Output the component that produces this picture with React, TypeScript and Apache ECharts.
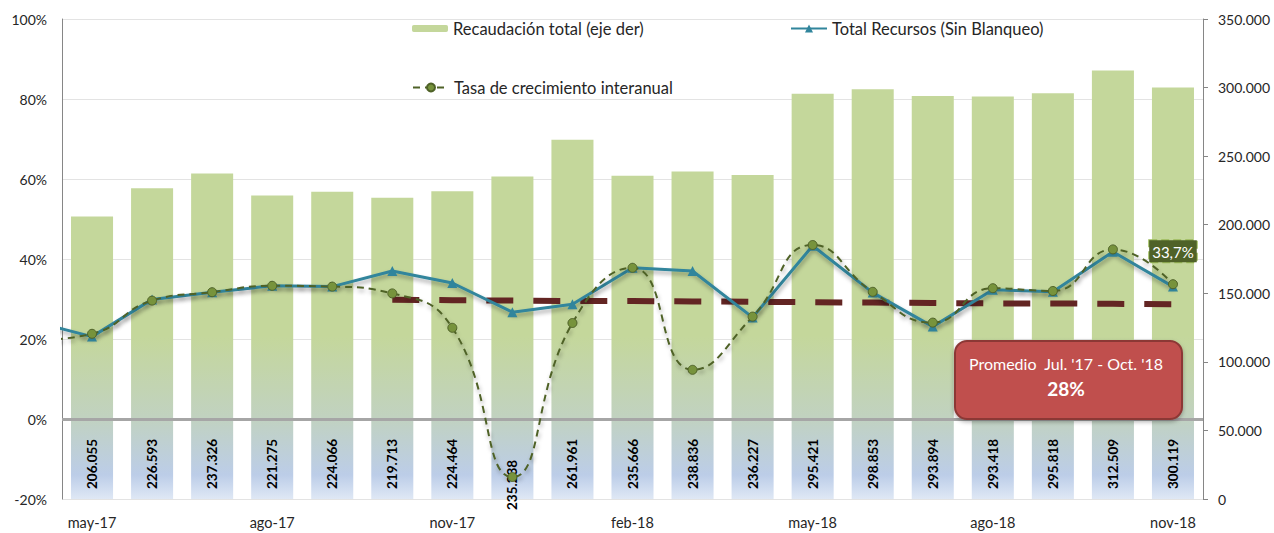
import React, { useEffect, useRef } from "react";
import * as echarts from "echarts";

// ---- data ----
const months = [
  "may-17", "jun-17", "jul-17", "ago-17", "sep-17", "oct-17", "nov-17", "dic-17",
  "ene-18", "feb-18", "mar-18", "abr-18", "may-18", "jun-18", "jul-18", "ago-18",
  "sep-18", "oct-18", "nov-18",
];
const recaudacion = [
  206055, 226593, 237326, 221275, 224066, 219713, 224464, 235238, 261961, 235666,
  238836, 236227, 295421, 298853, 293894, 293418, 295818, 312509, 300119,
];
// value of abr-17, only partly visible at the left edge
const totalRecursosPrev = 24.5;
const totalRecursos = [
  20.6, 29.9, 31.7, 33.3, 33.1, 37.0, 34.0, 26.7, 28.7, 37.8, 37.0, 25.4, 43.3, 31.6,
  23.1, 32.3, 31.8, 41.8, 33.1,
];
const tasaPrev = 19.6;
const tasaCrecimiento = [
  21.3, 29.6, 31.7, 33.3, 33.1, 31.4, 22.8, -14.5, 24.0, 37.8, 12.3, 25.6, 43.5, 31.8,
  24.1, 32.7, 32.0, 42.4, 33.7,
];
const promedioStart = 5; // oct-17
const promedio = [29.8, 29.7, 29.6, 29.5, 29.5, 29.4, 29.3, 29.2, 29.1, 29.0, 28.9, 28.9, 28.8, 28.7];
const lastLabel = "33,7%";
const calloutTitle = "Promedio  Jul. '17 - Oct. '18";
const calloutValue = "28%";

const FONT = "Lato, 'Open Sans', sans-serif";
const fmtThousands = (v: number) =>
  String(Math.round(v)).replace(/\B(?=(\d{3})+(?!\d))/g, ".");

export default function App() {
  const ref = useRef<HTMLDivElement>(null);

  useEffect(() => {
    if (!ref.current) return;
    const chart = echarts.init(ref.current, null, { renderer: "svg" });

    const barGradient = new echarts.graphic.LinearGradient(
      0, 19, 0, 499,
      [
        { offset: 0, color: "#c4d79b" },
        { offset: 0.66, color: "#c4d79b" },
        { offset: 0.83, color: "#c1d2c0" },
        { offset: 0.95, color: "#bccde8" },
        { offset: 1, color: "#dfe8f5" },
      ],
      true
    );

    const shadow = {
      shadowColor: "rgba(0,0,0,0.35)",
      shadowBlur: 4,
      shadowOffsetX: 1,
      shadowOffsetY: 3,
    };

    const legendText = { fontSize: 16.5, color: "#262626", fontFamily: FONT };

    chart.setOption({
      animation: false,
      textStyle: { fontFamily: FONT },
      grid: { left: 62, right: 71, top: 19, bottom: 34, containLabel: false },
      legend: [
        {
          data: ["Recaudación total (eje der)"],
          left: 412, top: 20, padding: 0, itemWidth: 36, itemHeight: 7,
          textStyle: legendText,
          selectedMode: false,
        },
        {
          data: ["Total Recursos (Sin Blanqueo)"],
          left: 790, top: 20, padding: 0, itemWidth: 36, itemHeight: 10,
          textStyle: legendText,
          selectedMode: false,
        },
        {
          data: ["Tasa de crecimiento interanual"],
          left: 412, top: 79, padding: 0, itemWidth: 36, itemHeight: 10,
          textStyle: legendText,
          selectedMode: false,
        },
      ],
      xAxis: [
        {
          type: "category",
          data: months,
          boundaryGap: true,
          axisLine: { show: false },
          axisTick: { show: false },
          axisLabel: {
            interval: 2, margin: 16, fontSize: 14.5, color: "#262626", fontFamily: FONT,
          },
        },
        { type: "value", min: -0.5, max: 18.5, show: false },
      ],
      yAxis: [
        {
          type: "value",
          min: -20, max: 100, interval: 20,
          axisLine: { show: true, onZero: false, lineStyle: { color: "#868686", width: 1 } },
          axisTick: { show: false },
          axisLabel: { formatter: "{value}%", margin: 15, fontSize: 14, color: "#262626", fontFamily: FONT },
          splitLine: { show: true, lineStyle: { color: "#e3e3e3", width: 1 } },
        },
        {
          type: "value",
          position: "right",
          min: 0, max: 350000, interval: 50000,
          axisLine: { show: true, onZero: false, lineStyle: { color: "#868686", width: 1 } },
          axisTick: { show: true, inside: false, length: 5, lineStyle: { color: "#868686" } },
          axisLabel: { formatter: (v: number) => fmtThousands(v), margin: 15, fontSize: 14, color: "#262626", fontFamily: FONT },
          splitLine: { show: false },
        },
      ],
      series: [
        {
          name: "Recaudación total (eje der)",
          type: "bar",
          xAxisIndex: 0,
          yAxisIndex: 1,
          barWidth: "70%",
          itemStyle: { color: barGradient },
          label: {
            show: true,
            position: "insideBottom",
            rotate: 90,
            align: "left",
            verticalAlign: "middle",
            distance: 10,
            formatter: (p: any) => fmtThousands(p.value),
            fontSize: 13.5,
            fontWeight: "bold",
            color: "#000",
            fontFamily: FONT,
          },
          data: recaudacion.map((v, i) =>
            i === 7 ? { value: v, label: { distance: -11 } } : v
          ),
          z: 1,
        },
        {
          name: "Promedio",
          type: "line",
          xAxisIndex: 1,
          yAxisIndex: 0,
          symbol: "none",
          lineStyle: { color: "#632523", width: 6, type: [27, 20], cap: "butt" },
          data: promedio.map((v, i) => [promedioStart + i, v]),
          z: 3,
        },
        {
          name: "Total Recursos (Sin Blanqueo)",
          type: "line",
          xAxisIndex: 1,
          yAxisIndex: 0,
          clip: true,
          symbol: "triangle",
          symbolSize: 10,
          itemStyle: { color: "#31859c" },
          lineStyle: { color: "#31859c", width: 3, ...shadow },
          data: [
            { value: [-1, totalRecursosPrev], symbol: "none" },
            ...totalRecursos.map((v, i) => [i, v]),
          ],
          markLine: {
            silent: true,
            symbol: "none",
            label: { show: false },
            lineStyle: { color: "#a6a6a6", width: 3, type: "solid" },
            data: [{ yAxis: 0 }],
          },
          z: 4,
        },
        {
          name: "Tasa de crecimiento interanual",
          type: "line",
          xAxisIndex: 1,
          yAxisIndex: 0,
          clip: true,
          smooth: 0.5,
          symbol: "circle",
          symbolSize: 9,
          itemStyle: { color: "#77933c", borderColor: "#4f6228", borderWidth: 1 },
          lineStyle: { color: "#4f6228", width: 2, type: [7, 5], ...shadow },
          data: [
            { value: [-1, tasaPrev], symbol: "none" },
            ...tasaCrecimiento.map((v, i) =>
              i === tasaCrecimiento.length - 1
                ? {
                    value: [i, v],
                    label: {
                      show: true,
                      position: "top",
                      distance: 17,
                      formatter: lastLabel,
                      color: "#fff",
                      fontSize: 15,
                      fontFamily: FONT,
                      backgroundColor: "#4f6228",
                      borderColor: "#9bbb59",
                      borderWidth: 1,
                      borderType: "dashed",
                      padding: [4, 3, 3, 3],
                    },
                  }
                : [i, v]
            ),
          ],
          z: 5,
        },
      ],
      graphic: [
        {
          type: "rect",
          shape: { x: 955, y: 341, width: 227, height: 78, r: 12 },
          style: {
            fill: "#c0504d",
            stroke: "#8c3836",
            lineWidth: 2,
            shadowColor: "rgba(0,0,0,0.3)",
            shadowBlur: 4,
            shadowOffsetY: 2,
          },
          z: 10,
        },
        {
          type: "text",
          x: 1066, y: 363,
          style: {
            text: calloutTitle,
            fill: "#fff",
            font: `16px ${FONT}`,
            align: "center",
            verticalAlign: "middle",
          },
          z: 11,
        },
        {
          type: "text",
          x: 1066, y: 388,
          style: {
            text: calloutValue,
            fill: "#fff",
            font: `bold 19px ${FONT}`,
            align: "center",
            verticalAlign: "middle",
          },
          z: 11,
        },
      ],
    });

    return () => chart.dispose();
  }, []);

  return (
    <div
      ref={ref}
      style={{ position: "absolute", left: 0, top: 0, width: 1274, height: 533, background: "#fff" }}
    />
  );
}
